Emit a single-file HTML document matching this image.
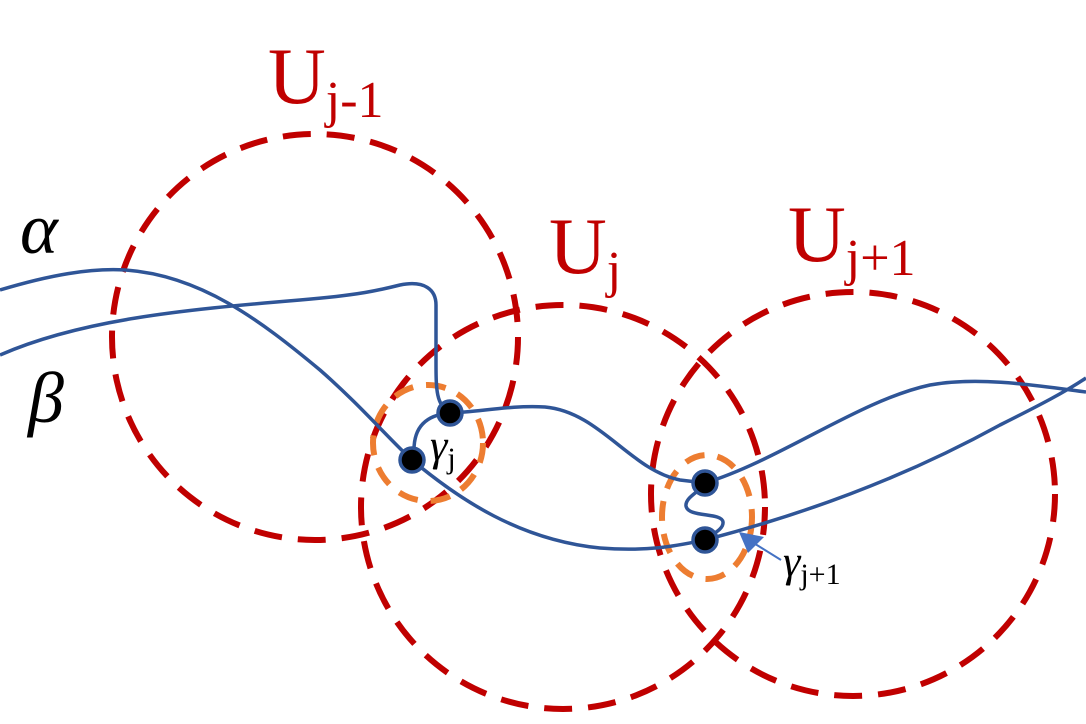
<!DOCTYPE html>
<html><head><meta charset="utf-8"><style>
html,body{margin:0;padding:0;background:#fff;}
svg{display:block;}
</style></head><body>
<svg width="1086" height="724" viewBox="0 0 1086 724" xmlns="http://www.w3.org/2000/svg">
<g fill="none" stroke="#c00000" stroke-width="6" stroke-dasharray="28 16">
<circle cx="315" cy="337" r="203"/>
<circle cx="563" cy="507" r="202"/>
<circle cx="853" cy="494" r="202"/>
</g>
<g fill="none" stroke="#ed7d31" stroke-width="6" stroke-dasharray="20 13">
<ellipse cx="428" cy="443" rx="55" ry="58"/>
<ellipse cx="707" cy="517" rx="45" ry="62"/>
</g>
<g fill="none" stroke="#2f5597" stroke-width="3.5">
<path d="M0,290 C50,275 90,268 125,270 C200,275 260,320 320,370 C360,405 390,440 412,460 C460,500 520,540 600,548 C650,552 680,545 705,540 C800,515 900,480 1000,425 C1040,405 1065,392 1086,378"/>
<path d="M0,355 C80,320 180,310 300,300 C360,295 380,290 400,285 C425,280 436,290 436,305 L436,360 C436,390 436,405 450,413 C480,412 510,405 545,407 C600,412 630,470 680,480 L705,483 C780,460 860,400 930,385 C980,376 1040,386 1086,392"/>
<path d="M450,413 C425,415 414,428 414,450 L412,460"/>
<path d="M705,483 C700,492 685,497 686,506 C688,518 722,512 723,522 C724,530 710,535 705,540"/>
</g>
<g fill="#000" stroke="#2f5597" stroke-width="3.5">
<circle cx="450" cy="413" r="12"/>
<circle cx="412" cy="460" r="12"/>
<circle cx="705" cy="483" r="12"/>
<circle cx="705" cy="540" r="12"/>
</g>
<line x1="781" y1="560" x2="752" y2="542" stroke="#4472c4" stroke-width="2"/>
<polygon points="739,532 764,537 748,553" fill="#4472c4"/>
<g font-family="Liberation Serif, serif" fill="#c00000">
<text x="268" y="103" font-size="80">U<tspan font-size="52" dy="14">j-1</tspan></text>
<text x="549" y="273" font-size="80">U<tspan font-size="52" dy="14">j</tspan></text>
<text x="788" y="261" font-size="80">U<tspan font-size="52" dy="14">j+1</tspan></text>
</g>
<g font-family="Liberation Serif, serif" fill="#000">
<text x="20" y="253" font-size="72" font-style="italic">α</text>
<text x="28" y="422" font-size="72" font-style="italic">β</text>
<text x="430" y="460" font-size="44" font-style="italic">γ<tspan font-style="normal" font-size="30" dy="8">j</tspan></text>
<text x="783" y="576" font-size="44" font-style="italic">γ<tspan font-style="normal" font-size="30" dy="8">j+1</tspan></text>
</g>
</svg>
</body></html>
